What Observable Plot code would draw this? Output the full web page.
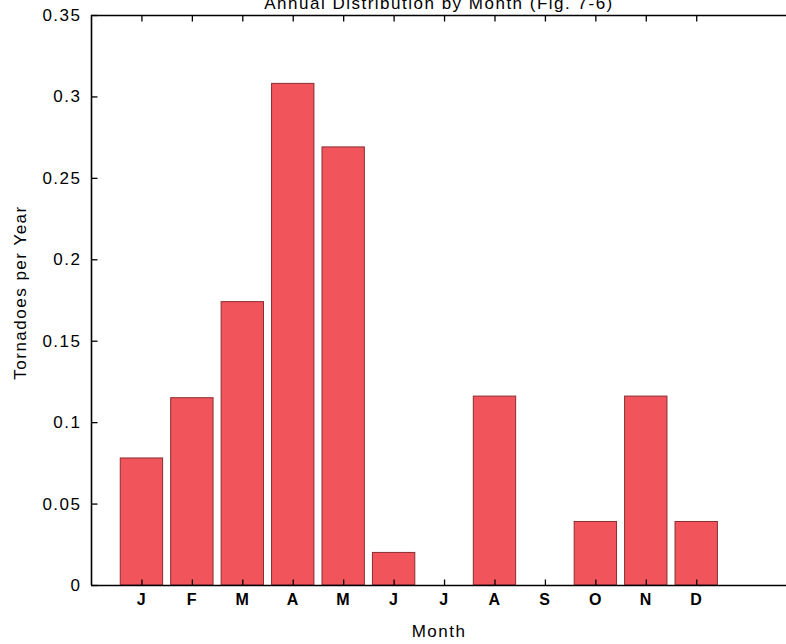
<!DOCTYPE html>
<html>
<head>
<meta charset="utf-8">
<script src="https://cdn.jsdelivr.net/npm/d3@7"></script>
<script src="https://cdn.jsdelivr.net/npm/@observablehq/plot@0.6"></script>
<style>
  html, body { margin: 0; padding: 0; background: #fff; }
  #chart svg { display: block; }
</style>
</head>
<body>
<div id="chart"></div>
<script>
const title = "Annual Distribution by Month (Fig. 7-6)";
const xLabel = "Month";
const yLabel = "Tornadoes per Year";
const monthLabels = ["J", "F", "M", "A", "M", "J", "J", "A", "S", "O", "N", "D"];
const monthIndex = [1, 2, 3, 4, 5, 6, 7, 8, 9, 10, 11, 12];
const tornadoesPerYear = [0.078, 0.115, 0.174, 0.308, 0.269, 0.020, 0, 0.116, 0, 0.039, 0.116, 0.039];
const yTicks = [0, 0.05, 0.1, 0.15, 0.2, 0.25, 0.3, 0.35];

const barHalf = 0.42;
const data = monthIndex.map((m, i) => ({m, label: monthLabels[i], v: tornadoesPerYear[i]}));

// inward tick-mark glyphs (6px long)
const tickRight = {draw(ctx) { ctx.moveTo(0, 0); ctx.lineTo(6, 0); }};
const tickUp = {draw(ctx) { ctx.moveTo(0, 0); ctx.lineTo(0, -6); }};
const tickDown = {draw(ctx) { ctx.moveTo(0, 0); ctx.lineTo(0, 6); }};

const font = "'Liberation Sans', Arial, Helvetica, sans-serif";

const chart = Plot.plot({
  width: 786,
  height: 644,
  marginLeft: 91,
  marginRight: 0,
  marginTop: 15,
  marginBottom: 59,
  style: {background: "#fff", fontFamily: font, fontSize: "16px", color: "#000", letterSpacing: "1.5px"},
  x: {type: "linear", domain: [0, 13.78]},
  y: {domain: [0, 0.35]},
  marks: [
    Plot.rectY(data, {
      x1: d => d.m - barHalf, x2: d => d.m + barHalf, y1: 0, y2: "v",
      fill: "#f2545b", stroke: "#8a2d30", strokeWidth: 1
    }),
    Plot.ruleY([0], {stroke: "#000", strokeWidth: 1.6}),
    Plot.ruleY([0.35], {stroke: "#000", strokeWidth: 1.6}),
    Plot.ruleX([0], {stroke: "#000", strokeWidth: 1.6}),
    // inward tick marks
    Plot.dot(yTicks, {x: 0, y: d => d, symbol: tickRight, r: 3, fill: "none", stroke: "#000", strokeWidth: 1.3}),
    Plot.dot(monthIndex, {x: d => d, y: 0, symbol: tickUp, r: 3, fill: "none", stroke: "#000", strokeWidth: 1.3}),
    Plot.dot(monthIndex, {x: d => d, y: 0.35, symbol: tickDown, r: 3, fill: "none", stroke: "#000", strokeWidth: 1.3}),
    // tick labels
    Plot.axisY(yTicks, {anchor: "left", tickSize: 0, tickPadding: 10, tickFormat: d => d3.format("")(d), fontSize: 17, label: null}),
    Plot.axisX(monthIndex, {anchor: "bottom", tickSize: 0, tickPadding: 8, tickFormat: (d) => monthLabels[d - 1], fontSize: 16, fontWeight: "bold", label: null}),
    // labels
    Plot.text([yLabel], {frameAnchor: "left", rotate: -90, textAnchor: "middle", dx: -71, dy: -8, fontSize: 17}),
    Plot.text([xLabel], {frameAnchor: "bottom", lineAnchor: "bottom", dy: 51, fontSize: 17}),
    Plot.text([title], {frameAnchor: "top", lineAnchor: "bottom", dy: -7, fontSize: 17})
  ]
});
document.getElementById("chart").appendChild(chart);
</script>
</body>
</html>
